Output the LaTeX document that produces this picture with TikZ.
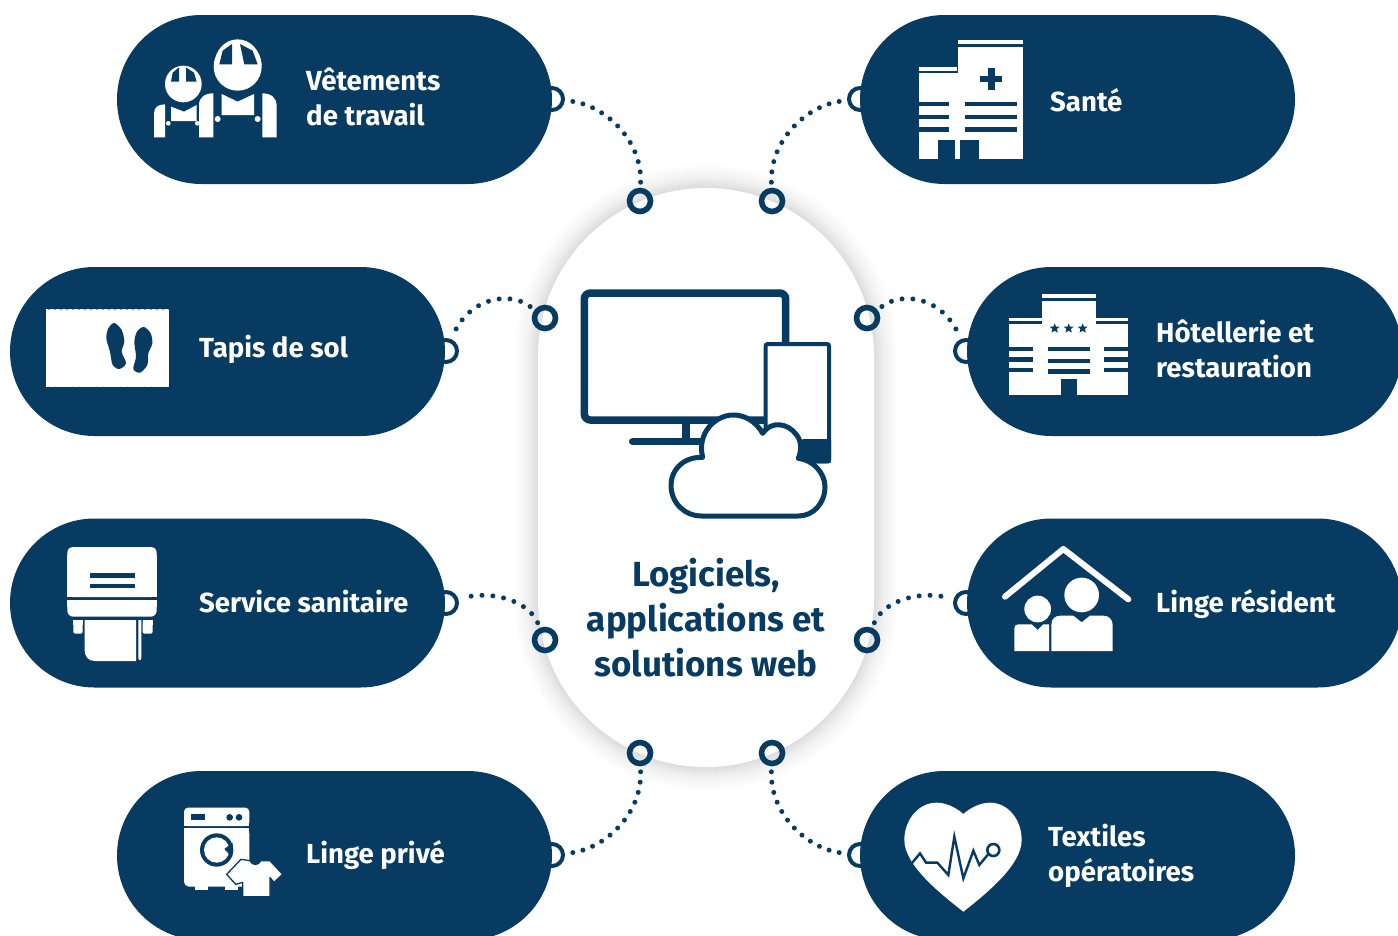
\documentclass[tikz,border=0pt]{standalone}
\usepackage{fontspec}
\setmainfont{Fira Sans}
\definecolor{navy}{HTML}{083B62}
\tikzset{
  pill/.style={rectangle,rounded corners=84.5pt,minimum width=435pt,minimum height=169pt,fill=navy,inner sep=0pt,outer sep=0pt},
  ringnode/.style={circle,draw=navy,line width=5.6pt,minimum size=21pt,inner sep=0pt},
  edgering/.style={circle,draw=navy,line width=4pt,fill=white,minimum size=22pt,inner sep=0pt},
  link/.style={draw=navy,line width=5pt,line cap=round,dash pattern=on 0pt off 10.4pt,shorten >=5pt,shorten <=5.5pt},
  linkwide/.style={link,dash pattern=on 0pt off 10.9pt},
  label/.style={text=white,font=\fontsize{27.6}{35}\selectfont\bfseries,align=left,anchor=west,inner sep=0pt},
  hubtitle/.style={text=navy,font=\fontsize{34.9}{45}\selectfont\bfseries,align=center,inner sep=0pt},
  zoomed/.style={shift={#1},scale=0.33333}
}
\newcommand{\zstar}[2]{\fill[navy] ({#1+0},{#2-15}) -- ({#1+4},{#2-5}) -- ({#1+15},{#2-5}) -- ({#1+6.5},{#2+2}) -- ({#1+9.5},{#2+13}) -- ({#1+0},{#2+7}) -- ({#1-9.5},{#2+13}) -- ({#1-6.5},{#2+2}) -- ({#1-15},{#2-5}) -- ({#1-4},{#2-5}) -- cycle;}
\begin{document}
\begin{tikzpicture}[x=1pt,y=-1pt]
\useasboundingbox (0,0) rectangle (1398,935);
\clip (0,0) rectangle (1398,935);
% hub with soft shadow
\foreach \d in {1,...,24}{
  \fill[black,opacity=0.004,rounded corners={168pt+\d*1pt}] ({538-\d},{188-\d}) rectangle ({874+\d},{767+\d});
}
\foreach \d in {1,...,10}{
  \fill[black,opacity=0.005,rounded corners={168pt+\d*1pt}] ({538-\d},{188-\d}) rectangle ({874+\d},{767+\d});
}
\node[rectangle,rounded corners=168pt,minimum width=336pt,minimum height=579pt,fill=white,inner sep=0pt,outer sep=0pt] (hub) at (706,477.5) {};
% hub rings
\node[ringnode] (r1) at (640,201) {};
\node[ringnode] (r2) at (772,201) {};
\node[ringnode] (r3) at (545,318) {};
\node[ringnode] (r4) at (867,318) {};
\node[ringnode] (r5) at (545,640) {};
\node[ringnode] (r6) at (867,640) {};
\node[ringnode] (r7) at (640,753) {};
\node[ringnode] (r8) at (772,753) {};
% edge rings
\node[edgering] (e1) at (552,99) {};
\node[edgering] (e2) at (860,99) {};
\node[edgering] (e3) at (446,351) {};
\node[edgering] (e4) at (966,351) {};
\node[edgering] (e5) at (446,603) {};
\node[edgering] (e6) at (966,603) {};
\node[edgering] (e7) at (552,855) {};
\node[edgering] (e8) at (860,855) {};
% pills
\node[pill] (p1) at (334.5,99.5) {};
\node[pill] (p2) at (1077.5,99.5) {};
\node[pill] (p3) at (227.5,351.5) {};
\node[pill] (p4) at (1184.5,351.5) {};
\node[pill] (p5) at (227.5,603) {};
\node[pill] (p6) at (1184.5,603) {};
\node[pill] (p7) at (334.5,855.5) {};
\node[pill] (p8) at (1077.5,855.5) {};
% connectors
\draw[link] (r1) .. controls (642,140) and (605,105) .. (e1);
\draw[link] (r2) .. controls (770,140) and (807,105) .. (e2);
\draw[linkwide] (r3) .. controls (510,291) and (470,297) .. (e3);
\draw[linkwide] (r4) .. controls (902,291) and (942,297) .. (e4);
\draw[linkwide] (r5) .. controls (528,600) and (490,590) .. (e5);
\draw[linkwide] (r6) .. controls (884,600) and (922,590) .. (e6);
\draw[link] (r7) .. controls (642,814) and (605,849) .. (e7);
\draw[link] (r8) .. controls (770,814) and (807,849) .. (e8);
% labels
\node[label] (t1) at (306,97) {Vêtements\\de travail};
\node[label] (t2) at (1050,100) {Santé};
\node[label] (t3) at (199,349) {Tapis de sol};
\node[label] (t4) at (1156,349) {Hôtellerie et\\restauration};
\node[label] (t5) at (199,602) {Service sanitaire};
\node[label] (t6) at (1156,604) {Linge résident};
\node[label] (t7) at (306,855) {Linge privé};
\node[label] (t8) at (1048,856) {Textiles\\opératoires};
\node[hubtitle] (t9) at (706,618) {Logiciels,\\applications et\\solutions web};
% icon: workers
\begin{scope}[zoomed={(110,10)}]
\fill[white] (383,170) circle (72);
\fill[white] (312,165) .. controls (315,120) and (345,88) .. (383,88) .. controls (420,88) and (452,120) .. (455,165) -- cycle;
\fill[navy] (328,163) -- (338,122) -- (366,102) -- (366,163) -- cycle;
\fill[navy] (390,102) -- (428,122) -- (443,163) -- (403,163) -- cycle;
\fill[white] (220,222) circle (55);
\fill[navy] (183,215) -- (188,188) -- (207,172) -- (207,215) -- cycle;
\fill[navy] (228,172) -- (252,188) -- (260,215) -- (228,215) -- cycle;
\fill[white] (267,382) -- (267,285) .. controls (267,262) and (285,250) .. (310,250) -- (310,382) -- cycle;
\fill[white] (457,250) .. controls (482,250) and (500,262) .. (500,288) -- (500,382) -- (457,382) -- cycle;
\fill[white] (335,252) -- (383,275) -- (432,252) -- (432,315) -- (335,315) -- cycle;
\fill[white] (323,327) circle (9);
\fill[white] (443,327) circle (9);
\fill[white] (132,382) -- (132,310) .. controls (132,292) and (145,283) .. (165,283) -- (165,382) -- cycle;
\fill[white] (183,290) -- (222,305) -- (260,285) -- (260,333) -- (183,333) -- cycle;
\fill[white] (175,340) circle (7);
\fill[white] (262,340) circle (7);
\end{scope}
% icon: hospital
\begin{scope}[zoomed={(900,30)}]
\fill[white] (175,50) rectangle (369,388);
\fill[white] (174,30) rectangle (369,43);
\fill[white] (57,130) rectangle (175,388);
\fill[white] (57,111) rectangle (171,123);
\fill[navy] (240,137) rectangle (307,157);
\fill[navy] (263,114) rectangle (284,180);
\foreach \y in {216,254,292}{
  \fill[navy] (57,\y) rectangle (146,\y+13);
  \fill[navy] (196,\y) rectangle (350,\y+13);
}
\fill[navy] (114,330) rectangle (165,388);
\fill[navy] (180,330) rectangle (236,388);
\end{scope}
% icon: hotel
\begin{scope}[zoomed={(990,280)}]
\fill[white] (155,43) rectangle (318,53);
\fill[white] (155,62) rectangle (318,345);
\fill[white] (58,133) rectangle (414,345);
\fill[white] (58,115) rectangle (155,123);
\fill[white] (318,115) rectangle (414,123);
\zstar{194}{145}
\zstar{236}{145}
\zstar{278}{145}
\foreach \y in {200,232,263}{
  \fill[navy] (58,\y) rectangle (130,\y+13);
  \fill[navy] (342,\y) rectangle (414,\y+13);
}
\foreach \y in {200,237,268}{
  \fill[navy] (173,\y) rectangle (300,\y+13);
}
\fill[navy] (213,298) rectangle (260,345);
\end{scope}
% icon: family home
\begin{scope}[zoomed={(990,535)}]
\draw[white,line width=6pt,line cap=round,line join=round] (45,185) -- (220,42) -- (415,193);
\fill[white] (275,180) circle (52);
\fill[white] (143,222) circle (40);
\fill[white] (184,348) -- (184,270) .. controls (184,252) and (195,242) .. (212,242) -- (250,242) -- (275,262) -- (300,242) -- (340,242) .. controls (358,242) and (368,255) .. (368,270) -- (368,348) -- cycle;
\fill[white] (73,348) -- (73,280) .. controls (73,272) and (78,268) .. (85,268) -- (125,268) -- (143,285) -- (160,268) -- (177,268) -- (177,348) -- cycle;
\end{scope}
% icon: mat
\begin{scope}[zoomed={(30,295)}]
\fill[white] (48,42) rectangle (418,277);
\foreach \x in {57,75,...,420}{
  \fill[navy] (\x,40) circle (4.5);
  \fill[navy] (\x,279) circle (4.5);
}
\fill[navy] plot[smooth cycle] coordinates {(253,84) (275,105) (283,140) (275,170) (288,205) (268,222) (248,210) (240,170) (229,130) (235,100)};
\fill[navy] plot[smooth cycle] coordinates {(342,96) (362,115) (367,145) (355,175) (352,210) (330,233) (310,222) (318,185) (313,140) (322,108)};
\end{scope}
% icon: dispenser
\begin{scope}[zoomed={(50,535)}]
\fill[white,rounded corners=5pt] (52,186) -- (52,36) -- (320,36) -- (320,186) -- cycle;
\fill[white] (52,186) -- (52,60) -- (320,60) -- (320,186) -- cycle;
\fill[white,rounded corners=6pt] (52,195) -- (52,245) -- (320,245) -- (320,195) -- cycle;
\fill[white] (52,195) rectangle (320,215);
\fill[navy] (120,115) rectangle (254,128);
\fill[navy] (120,147) rectangle (254,160);
\fill[white,rounded corners=2pt] (70,255) -- (70,296) -- (98,296) -- (98,255) -- cycle;
\fill[white] (70,255) rectangle (98,270);
\fill[white,rounded corners=2pt] (278,255) -- (278,296) -- (308,296) -- (308,255) -- cycle;
\fill[white] (278,255) rectangle (308,270);
\fill[white] (104,255) -- (104,345) .. controls (104,365) and (115,378) .. (135,378) -- (258,378) -- (258,255) -- cycle;
\fill[white] (265,255) -- (265,368) .. controls (265,378) and (274,378) .. (274,368) -- (274,255) -- cycle;
\end{scope}
% icon: washing machine
\begin{scope}[zoomed={(170,795)}]
\fill[white,rounded corners=4pt] (42,93) -- (42,38) -- (238,38) -- (238,93) -- cycle;
\fill[white] (42,70) rectangle (238,93);
\fill[white,rounded corners=5pt] (42,100) -- (42,275) -- (238,275) -- (238,100) -- cycle;
\fill[white] (42,100) rectangle (238,130);
\fill[white] (76,270) rectangle (113,285);
\fill[white] (165,270) rectangle (205,285);
\fill[navy] (63,58) rectangle (104,76);
\fill[navy] (179,67) circle (10);
\fill[navy] (207,67) circle (10);
\fill[navy] (140,165) circle (50);
\fill[white] (140,165) circle (38);
\fill[navy] (163,162) -- (188,143) -- (186,187) -- cycle;
\fill[white,draw=navy,line width=1.3pt,line join=round] (170,238) -- (213,193) -- (240,197) .. controls (245,212) and (267,212) .. (272,197) -- (300,197) -- (338,238) -- (312,262) -- (300,248) -- (300,305) -- (218,305) -- (218,262) -- (197,268) -- cycle;
\end{scope}
% icon: heart
\begin{scope}[zoomed={(890,790)}]
\fill[white] (220,72) .. controls (245,50) and (275,38) .. (300,38) .. controls (355,38) and (395,90) .. (395,150) .. controls (395,225) and (290,310) .. (220,365) .. controls (150,310) and (43,225) .. (43,150) .. controls (43,90) and (85,38) .. (140,38) .. controls (165,38) and (195,50) .. (220,72) -- cycle;
\draw[navy,line width=2.4pt,line join=miter] (62,224) -- (90,190) -- (108,218) -- (142,218) -- (175,255) -- (193,140) -- (220,265) -- (250,182) -- (268,225) -- (295,192);
\draw[navy,line width=2.6pt,fill=white] (310,180) circle (18);
\end{scope}
% icon: devices and cloud
\begin{scope}[zoomed={(560,270)}]
\draw[navy,line width=7.5pt,rounded corners=6pt] (73,69) rectangle (677,450);
\draw[navy,line width=7.5pt] (378,455) -- (378,515);
\draw[navy,line width=7.5pt,line cap=round] (218,515) -- (430,515);
\draw[navy,fill=white,line width=4pt,rounded corners=2pt] (617,222) rectangle (807,574);
\fill[navy,rounded corners=2pt] (725,507) rectangle (813,580);
\draw[navy,fill=white,line width=5pt,line join=round] (428,562) .. controls (370,560) and (333,600) .. (333,645) .. controls (333,700) and (375,738) .. (425,738) -- (715,738) .. controls (760,738) and (795,700) .. (795,650) .. controls (795,610) and (760,570) .. (715,565) .. controls (725,540) and (725,515) .. (710,495) .. controls (685,460) and (635,450) .. (608,490) .. controls (585,450) and (550,435) .. (520,435) .. controls (465,435) and (410,490) .. (428,562) -- cycle;
\end{scope}
\end{tikzpicture}
\end{document}
